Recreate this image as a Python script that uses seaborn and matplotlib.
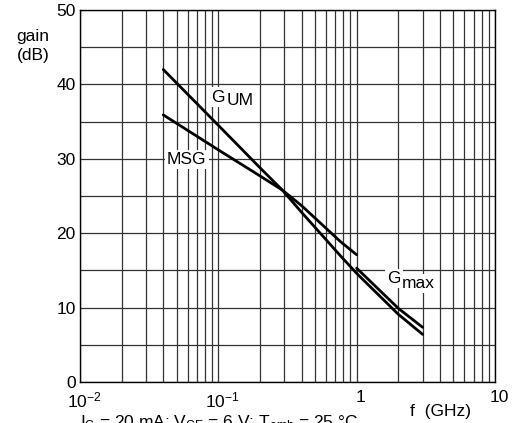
import numpy as np
import pandas as pd
import matplotlib
matplotlib.use("Agg")
import matplotlib.pyplot as plt
import matplotlib.transforms as mtransforms
from matplotlib.ticker import FixedLocator, NullFormatter
import seaborn as sns

# ---- data ----
f_gum = [0.04, 0.1, 0.2, 0.29, 0.4, 0.76, 1.0, 2.0, 3.0]
g_gum = [42.0, 34.5, 28.8, 25.8, 22.8, 17.0, 14.6, 9.1, 6.4]

f_msg = [0.04, 0.1, 0.2, 0.29, 0.4, 0.76, 1.0]
g_msg = [35.9, 31.2, 27.7, 25.8, 23.7, 18.9, 17.1]

f_gmax = [1.0, 2.0, 3.0]
g_gmax = [15.3, 9.9, 7.35]

x_ticks = [0.01, 0.1, 1, 10]
x_ticklabels = ["$10^{-2}$", "$10^{-1}$", "1", "10"]
y_ticks = [0, 10, 20, 30, 40, 50]
y_minor = [5, 15, 25, 35, 45]

df = pd.concat([
    pd.DataFrame({"f": f_gum, "gain": g_gum, "curve": "GUM"}),
    pd.DataFrame({"f": f_msg, "gain": g_msg, "curve": "MSG"}),
    pd.DataFrame({"f": f_gmax, "gain": g_gmax, "curve": "Gmax"}),
], ignore_index=True)

sns.set_style("white")
plt.rcParams["font.family"] = ["Liberation Sans", "DejaVu Sans"]
plt.rcParams["mathtext.fontset"] = "custom"
plt.rcParams["mathtext.rm"] = "Liberation Sans"
plt.rcParams["mathtext.it"] = "Liberation Sans:italic"
plt.rcParams["mathtext.sf"] = "Liberation Sans"
plt.rcParams["text.color"] = "black"
plt.rcParams["xtick.color"] = "black"
plt.rcParams["ytick.color"] = "black"

FS = 12.5
fig = plt.figure(figsize=(5.18, 4.23), dpi=100)
ax = fig.add_axes([80 / 518, 1 - 382 / 423, 415 / 518, 372 / 423])

sns.lineplot(data=df, x="f", y="gain", hue="curve", units="curve",
             estimator=None, sort=False, legend=False,
             palette={"GUM": "black", "MSG": "black", "Gmax": "black"},
             linewidth=2.0, ax=ax, zorder=3)

ax.set_xscale("log")
ax.set_xlim(0.01, 10)
ax.set_ylim(0, 50)
ax.xaxis.set_major_locator(FixedLocator(x_ticks))
ax.set_xticklabels(x_ticklabels, fontsize=FS)
minor = [m * d for d in [0.01, 0.1, 1] for m in range(2, 10)]
ax.xaxis.set_minor_locator(FixedLocator(minor))
ax.xaxis.set_minor_formatter(NullFormatter())
ax.yaxis.set_major_locator(FixedLocator(y_ticks))
ax.set_yticklabels([str(v) for v in y_ticks], fontsize=FS)
ax.yaxis.set_minor_locator(FixedLocator(y_minor))
ax.grid(which="both", color="#333333", linewidth=0.9)
ax.set_axisbelow(True)
ax.tick_params(which="both", length=0, colors="black")
ax.tick_params(axis="x", pad=6)
ax.tick_params(axis="y", pad=3)
ax.set_xlabel("")
ax.set_ylabel("")
for s in ax.spines.values():
    s.set_color("black")
    s.set_linewidth(1.0)

shift = mtransforms.ScaledTranslation(4 / 100, 0, fig.dpi_scale_trans)
for lab in ax.get_xticklabels():
    lab.set_transform(lab.get_transform() + shift)

bb = dict(facecolor="white", edgecolor="none", pad=1.5)
# G_UM label
ax.text(0.089, 37.7, "G", fontsize=FS, va="baseline", ha="left", bbox=bb, zorder=5)
ax.text(0.1156, 37.2, "UM", fontsize=FS, va="baseline", ha="left", bbox=bb, zorder=5)
# MSG label
ax.text(0.0426, 29.3, "MSG", fontsize=FS, va="baseline", ha="left", bbox=bb, zorder=5)
# G_max label
ax.text(1.66, 13.3, "G", fontsize=FS, va="baseline", ha="left", bbox=bb, zorder=5)
ax.text(2.13, 12.6, "max", fontsize=FS, va="baseline", ha="left", bbox=bb, zorder=5)

fig.text(33 / 518, 1 - 46 / 423, "gain\n(dB)", fontsize=FS, ha="center", va="center",
         linespacing=1.3)
fig.text(440 / 518, 1 - 411 / 423, "f  (GHz)", fontsize=FS, ha="center", va="center")
fig.text(80 / 518, 1 - 413 / 423,
         r"I$_{\mathregular{C}}$ = 20 mA; V$_{\mathregular{CE}}$ = 6 V; "
         r"T$_{\mathregular{amb}}$ = 25 °C",
         fontsize=FS, ha="left", va="top")

fig.savefig("out.png", dpi=100)
